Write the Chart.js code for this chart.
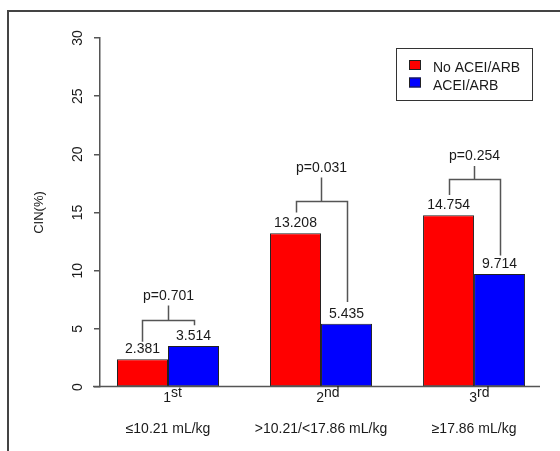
<!DOCTYPE html>
<html>
<head>
<meta charset="utf-8">
<script src="https://cdn.jsdelivr.net/npm/chart.js@4.4.0/dist/chart.umd.min.js"></script>
<style>
  html, body { margin: 0; padding: 0; background: #fff; }
  #wrap { position: relative; width: 560px; height: 451px; overflow: hidden; }
  #frame { position: absolute; left: 7px; top: 10px; width: 600px; height: 500px; border-left: 2px solid #444; border-top: 2px solid #444; }
  canvas { position: absolute; left: 0; top: 0; }
</style>
</head>
<body>
<div id="wrap">
  <div id="frame"></div>
  <canvas id="cinChart" width="560" height="451"></canvas>
</div>
<script>
// groups (tertiles of contrast volume)
const groups = [1, 2, 3];
const groupNumbers = ['1', '2', '3'];
const groupSuffixes = ['st', 'nd', 'rd'];
const groupRanges = ['≤10.21 mL/kg', '>10.21/<17.86 mL/kg', '≥17.86 mL/kg'];

// CIN incidence (%)
const noAceiValues = [2.381, 13.208, 14.754];
const aceiValues = [3.514, 5.435, 9.714];

// p-value brackets (in CIN % units)
const pLabels = ['p=0.701', 'p=0.031', 'p=0.254'];
const bracketLevels = [5.8, 16, 17.9];
const bracketTops = [7, 18, 19];
const noAceiLegEnds = [3.9, 15, 16.5];
const aceiLegEnds = [5.3, 7.3, 11.3];

const axisColor = '#555';
const textColor = '#1a1a1a';
const fontFamily = "'Liberation Sans', Arial, sans-serif";

// Draw the labels, brackets and legend the way the R figure does
const annotatePlugin = {
    id: 'annotate',
    afterDraw(chart) {
        const ctx = chart.ctx;
        const xs = chart.scales.x;
        const ys = chart.scales.y;
        const area = chart.chartArea;
        const zeroY = Math.round(ys.getPixelForValue(0)) - 0.5;
        ctx.save();

        // x baseline
        ctx.strokeStyle = axisColor;
        ctx.lineWidth = 1.5;
        ctx.beginPath();
        ctx.moveTo(area.left - 7, zeroY);
        ctx.lineTo(area.right, zeroY);
        ctx.stroke();

        // y tick labels, rotated
        ctx.fillStyle = textColor;
        ctx.font = '14px ' + fontFamily;
        ctx.textAlign = 'center';
        ctx.textBaseline = 'alphabetic';
        ys.ticks.forEach(t => {
            ctx.save();
            ctx.translate(82, ys.getPixelForValue(t.value));
            ctx.rotate(-Math.PI / 2);
            ctx.fillText(String(t.value), 0, 0);
            ctx.restore();
        });

        // value labels above bars
        ctx.font = '14px ' + fontFamily;
        chart.data.datasets.forEach((ds, i) => {
            chart.getDatasetMeta(i).data.forEach((bar, j) => {
                ctx.fillText(ds.data[j].y.toFixed(3), bar.x, bar.y - 6);
            });
        });

        // p-value brackets
        const redBars = chart.getDatasetMeta(0).data;
        const blueBars = chart.getDatasetMeta(1).data;
        ctx.strokeStyle = axisColor;
        ctx.lineWidth = 1.5;
        groups.forEach((g, i) => {
            const cx = Math.round(xs.getPixelForValue(g)) + 0.5;
            const lx = Math.round(redBars[i].x) + 0.5;
            const rx = Math.round(blueBars[i].x) + 0.5;
            const by = Math.round(ys.getPixelForValue(bracketLevels[i])) + 0.5;
            const ty = ys.getPixelForValue(bracketTops[i]);
            ctx.beginPath();
            ctx.moveTo(cx, ty);
            ctx.lineTo(cx, by);
            ctx.moveTo(lx, ys.getPixelForValue(noAceiLegEnds[i]));
            ctx.lineTo(lx, by);
            ctx.lineTo(rx, by);
            ctx.lineTo(rx, ys.getPixelForValue(aceiLegEnds[i]));
            ctx.stroke();
            ctx.fillText(pLabels[i], cx, ty - 6);
        });

        // x category labels: ordinal with raised suffix, then range
        groups.forEach((g, i) => {
            const cx = xs.getPixelForValue(g);
            ctx.font = '14px ' + fontFamily;
            ctx.textAlign = 'right';
            ctx.fillText(groupNumbers[i], cx + 3, 402);
            ctx.textAlign = 'left';
            ctx.fillText(groupSuffixes[i], cx + 3, 397);
            ctx.textAlign = 'center';
            ctx.fillText(groupRanges[i], cx, 433);
        });

        // legend box in the top right of the plot
        const boxRight = area.right - 8;
        const boxLeft = boxRight - 136;
        const boxTop = area.top + 10;
        ctx.strokeStyle = '#333';
        ctx.lineWidth = 1;
        ctx.strokeRect(boxLeft + 0.5, boxTop + 0.5, 136, 52);
        ctx.font = '14px ' + fontFamily;
        ctx.textAlign = 'left';
        chart.data.datasets.forEach((ds, i) => {
            const rowY = boxTop + 12 + i * 17.5;
            ctx.fillStyle = ds.backgroundColor;
            ctx.fillRect(boxLeft + 13, rowY, 12, 10);
            ctx.strokeStyle = '#222';
            ctx.strokeRect(boxLeft + 13.5, rowY + 0.5, 11, 9);
            ctx.fillStyle = textColor;
            ctx.fillText(ds.label, boxLeft + 37, rowY + 12);
        });

        ctx.restore();
    }
};

new Chart(document.getElementById('cinChart').getContext('2d'), {
    type: 'bar',
    data: {
        datasets: [{
            label: 'No ACEI/ARB',
            data: groups.map((g, i) => ({ x: g, y: noAceiValues[i] })),
            backgroundColor: '#FF0000',
            borderColor: '#222',
            borderWidth: 1,
            borderSkipped: false
        }, {
            label: 'ACEI/ARB',
            data: groups.map((g, i) => ({ x: g, y: aceiValues[i] })),
            backgroundColor: '#0000FF',
            borderColor: '#222',
            borderWidth: 1,
            borderSkipped: false
        }]
    },
    options: {
        responsive: false,
        animation: false,
        barPercentage: 1,
        categoryPercentage: 2 / 3,
        layout: { padding: { left: 0, top: 38, right: 20, bottom: 64 } },
        scales: {
            x: {
                type: 'linear',
                display: false,
                offset: false,
                min: 0.5556,
                max: 3.431,
                afterBuildTicks: scale => { scale.ticks = groups.map(v => ({ value: v })); }
            },
            y: {
                min: 0,
                max: 30,
                ticks: { stepSize: 5, display: false },
                grid: { drawOnChartArea: false, drawTicks: true, tickLength: 6, color: axisColor, lineWidth: 1.5 },
                border: { display: true, color: axisColor, width: 1.5 },
                title: {
                    display: true,
                    text: 'CIN(%)',
                    color: textColor,
                    font: { family: fontFamily, size: 13 },
                    padding: { top: 32, bottom: 0 }
                },
                afterFit: scale => { scale.width = 100; }
            }
        },
        plugins: {
            legend: { display: false },
            tooltip: { enabled: false }
        }
    },
    plugins: [annotatePlugin]
});
</script>
</body>
</html>
